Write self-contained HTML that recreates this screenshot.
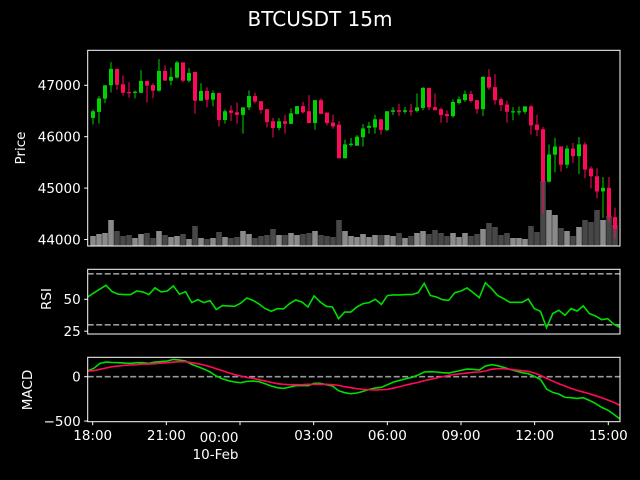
<!DOCTYPE html>
<html><head><meta charset="utf-8"><style>
html,body{margin:0;padding:0;background:#000;}
svg{display:block;font-family:"DejaVu Sans","Liberation Sans",sans-serif;}
</style></head><body>
<svg id="chart" width="640" height="480" viewBox="0 0 640 480">
<rect width="640" height="480" fill="#000"/>
<text x="320" y="26" fill="#fff" font-size="20" text-anchor="middle">BTCUSDT 15m</text>
<g id="g"></g>
</svg>
<script>
const opens=[46365,46483,46740,47000,47320,47020,46870,46865,46855,47085,47005,46895,47280,47090,47150,47445,47090,47260,46700,46890,46720,46850,46325,46510,46475,46425,46570,46790,46690,46535,46300,46170,46300,46250,46440,46595,46495,46265,46710,46470,46275,46235,45580,45840,45825,45990,46175,46180,46340,46130,46485,46515,46485,46510,46500,46560,46950,46575,46535,46440,46400,46655,46710,46830,46710,46535,47165,46965,46730,46625,46485,46485,46485,46590,46235,46145,45125,45650,45810,45455,45770,45620,45850,45380,45230,44935,45005,44435];
const closes=[46495,46745,47000,47320,47010,46855,46860,46875,47085,46995,46895,47280,47090,47165,47445,47090,47240,46700,46890,46720,46850,46325,46495,46465,46425,46570,46790,46685,46520,46285,46170,46300,46250,46455,46595,46475,46265,46710,46445,46265,46200,45580,45850,45865,46000,46160,46210,46340,46130,46495,46515,46485,46515,46500,46570,46950,46570,46515,46420,46400,46675,46730,46830,46695,46535,47165,46955,46710,46615,46485,46495,46495,46590,46220,46130,45125,45655,45810,45455,45770,45620,45850,45360,45230,44935,45005,44435,44205];
const highs=[46530,46790,47000,47450,47320,47190,47060,46900,47295,47085,47040,47510,47385,47345,47475,47445,47335,47260,47040,46960,46900,46850,46530,46610,46665,46570,46900,46855,46690,46535,46370,46365,46430,46550,46595,46680,46810,46710,46745,46470,46430,46305,45940,45975,46030,46245,46290,46430,46340,46495,46575,46640,46580,46640,46840,46965,46950,46840,46570,46510,46725,46785,46900,46895,46710,47175,47315,47215,46765,46700,46575,46590,46590,46615,46430,46190,45845,45980,45810,45830,45880,45995,45895,45425,45385,45215,45215,44620];
const lows=[46235,46255,46650,46860,46910,46800,46760,46745,46855,46665,46745,46880,47090,47000,47135,47060,47060,46450,46700,46570,46590,46195,46255,46305,46255,46060,46515,46645,46450,46180,45985,46125,46060,46250,46440,46450,46265,46135,46445,46220,46155,45580,45580,45805,45825,45810,46060,46060,46040,46105,46420,46405,46450,46410,46470,46515,46515,46515,46275,46275,46370,46630,46680,46665,46450,46405,46910,46625,46500,46275,46320,46420,46445,46040,46010,44500,45110,45305,45320,45385,45490,45275,45195,44995,44800,44415,44345,44020];
const volumes=[30,36,39,78,45,30,33,24,36,39,24,45,33,27,30,36,21,60,24,21,24,42,27,24,27,45,36,24,30,33,51,33,33,39,33,36,39,45,33,30,27,78,45,30,27,36,27,33,33,33,30,39,24,30,39,45,36,48,39,30,39,27,39,30,36,51,69,57,33,39,24,24,21,60,42,195,108,93,54,45,30,57,78,72,108,78,90,63];
const rsi=[51.8,55,58,61,56,54,53.7,53.7,56.5,55.8,53.7,59,55.8,56.5,60.5,54,56,47.4,49.7,47.4,49,42,45,44.8,44.5,46.9,51,49.2,46.3,42.7,40.6,42.7,42.4,46.6,49.5,47.9,44,52.6,47.9,44.5,44,34.8,40,40,44,46.6,47.4,50,46,53,53.4,53.4,53.7,53.7,55.2,62.5,53,51.8,49.7,49.2,55.2,56.5,58.9,55.2,51.3,63,58.4,53,50.5,47.6,47.6,47.6,50.3,42.7,40.6,27.8,38.8,41.4,37.5,42.7,40.8,44.8,38.8,36.9,34,34.8,30.4,28];
const macd=[64,94,150,165,160,158,154,150,158,158,150,165,169,177,195,188,177,139,113,86,53,8,-23,-45,-60,-68,-53,-49,-56,-79,-105,-124,-132,-117,-102,-98,-102,-75,-75,-90,-105,-158,-180,-192,-184,-165,-143,-128,-120,-90,-60,-41,-23,-8,19,53,56,53,45,41,56,71,86,83,75,120,135,124,105,83,64,45,34,4,-30,-139,-177,-195,-233,-237,-245,-237,-267,-301,-346,-376,-425,-477];
const signal=[64,68,83,98,113,120,128,132,135,143,143,147,154,158,165,169,169,158,147,132,113,90,68,45,23,8,-8,-19,-34,-49,-64,-79,-86,-90,-90,-90,-86,-86,-86,-86,-90,-98,-113,-124,-135,-143,-147,-150,-147,-143,-128,-113,-94,-79,-64,-45,-30,-15,0,15,26,34,41,49,53,64,83,90,90,83,75,68,60,41,15,-19,-49,-79,-105,-132,-154,-173,-192,-214,-237,-263,-289,-323];
const priceTicks=[44000,45000,46000,47000];
const rsiTicks=[25,50];
const macdTicks=[-500,0];
const timeLabels=["18:00","21:00","00:00","03:00","06:00","09:00","12:00","15:00"];
const timeIdx=[0,12,24,36,48,60,72,84];

const NS="http://www.w3.org/2000/svg";
const g=document.getElementById('g');
function mk(t,a,p){const e=document.createElementNS(NS,t);for(const k in a)e.setAttribute(k,a[k]);(p||g).appendChild(e);return e;}
const L=87.7,R=620;
const N=opens.length;
const xC=i=>93+i*(615-93)/(N-1);
const xL=j=>L+j*(R-L)/(rsi.length-1);
const xT=i=>92.7+i*(608.3-92.7)/84;
const yP=p=>85.3+(47000-p)*0.0514;
const yV=v=>246-v/3;
const yR=v=>299.3-(v-50)*1.275;
const yM=v=>376.7-v*0.0887;
const GREEN="#00d400",RED="#ff0a5a";

for(let i=0;i<N;i++){
  const up=closes[i]>=opens[i];
  const r=mk('rect',{x:xC(i)-2.8,y:yV(volumes[i]),width:5.6,height:246-yV(volumes[i]),fill:up?'#8a8a8a':'#474747'});
  
  
}
for(let i=0;i<N;i++){
  const up=closes[i]>=opens[i];const c=up?GREEN:RED;
  const grp=mk('g',{});
  
  
  mk('line',{x1:xC(i),x2:xC(i),y1:yP(highs[i]),y2:yP(lows[i]),stroke:c,'stroke-width':1},grp);
  const t=Math.min(yP(opens[i]),yP(closes[i]));
  const h=Math.max(1.2,Math.abs(yP(opens[i])-yP(closes[i])));
  mk('rect',{x:xC(i)-2,y:t,width:4,height:h,fill:c},grp);
}
mk('line',{x1:L,x2:R,y1:yR(70),y2:yR(70),stroke:'#999','stroke-width':1.6,'stroke-dasharray':'6,2.5'});
mk('line',{x1:L,x2:R,y1:yR(30),y2:yR(30),stroke:'#999','stroke-width':1.6,'stroke-dasharray':'6,2.5'});
const rl=mk('polyline',{points:rsi.map((v,j)=>xL(j)+','+yR(v)).join(' '),fill:'none',stroke:'#00dd00','stroke-width':1.6});


mk('line',{x1:L,x2:R,y1:yM(0),y2:yM(0),stroke:'#999','stroke-width':1.6,'stroke-dasharray':'6,2.5'});
const ml=mk('polyline',{points:macd.map((v,j)=>xL(j)+','+yM(v)).join(' '),fill:'none',stroke:'#00dd00','stroke-width':1.6});


const sl=mk('polyline',{points:signal.map((v,j)=>xL(j)+','+yM(v)).join(' '),fill:'none',stroke:'#ff0a5a','stroke-width':1.6});



const panels=[[50.3,246,'price-panel'],[269.3,334,'rsi-panel'],[357.3,421.7,'macd-panel']];
panels.forEach(p=>{const r=mk('rect',{x:L,y:p[0],width:R-L,height:p[1]-p[0],fill:'none',stroke:'#fff','stroke-width':1});
});

function ytick(y,label,name){
  mk('line',{x1:L-3.5,x2:L,y1:y,y2:y,stroke:'#fff','stroke-width':1});
  const t=mk('text',{x:L-7,y:y+4.8,fill:'#fff','font-size':13.5,'text-anchor':'end'});
  t.textContent=label;
  
  
}
priceTicks.forEach(v=>ytick(yP(v),String(v),'price-tick-label'));
rsiTicks.forEach(v=>ytick(yR(v),String(v),'rsi-tick-label'));
macdTicks.forEach(v=>ytick(yM(v),String(v).replace('-','\u2212'),'macd-tick-label'));

timeLabels.forEach((lab,k)=>{
  const x=xT(timeIdx[k]);
  mk('line',{x1:x,x2:x,y1:421.7,y2:425.2,stroke:'#fff','stroke-width':1});
  const isDate=k==2;
  const t=mk('text',{x:isDate?x-1.5:x,y:isDate?442:440,fill:'#fff','font-size':13.5,'text-anchor':isDate?'end':'middle'});
  t.textContent=lab;
  
  
});
const d=mk('text',{x:xT(24)-1.5,y:459,fill:'#fff','font-size':13.5,'text-anchor':'end'});
d.textContent='10-Feb';



function ylab(x,y,txt,name){
  const t=mk('text',{x:x,y:y,fill:'#fff','font-size':13.5,'text-anchor':'middle',transform:'rotate(-90 '+x+' '+y+')'});
  t.textContent=txt;
  
  
}
ylab(25,148,'Price','price-axis-title');
ylab(51,299,'RSI','rsi-axis-title');
ylab(32,390,'MACD','macd-axis-title');
</script>
</body></html>
